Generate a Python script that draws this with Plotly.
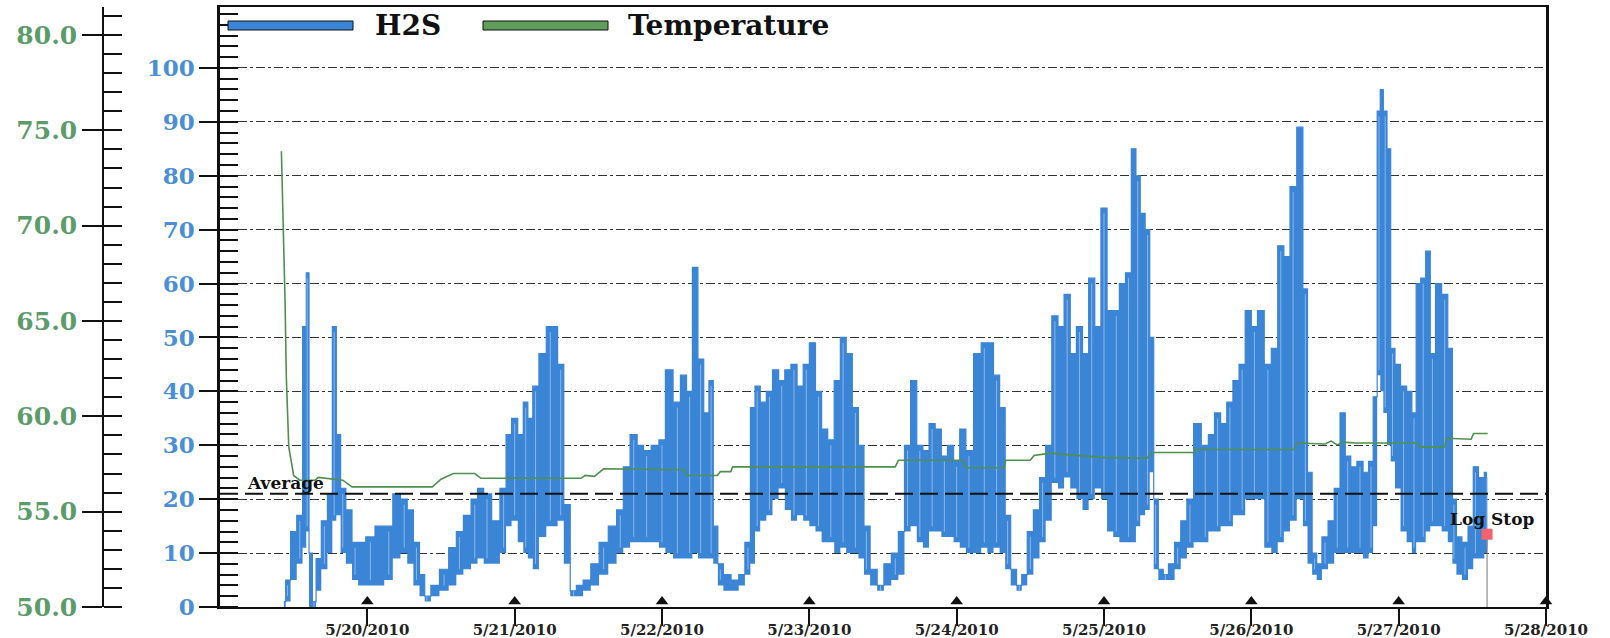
import plotly.graph_objects as go
import pandas as pd

# ---------------- data ----------------
start = pd.Timestamp("2010-05-19 00:00")

series_names = ["H2S", "Temperature"]

# H2S: hours since 5/19/2010 00:00, upper and lower envelope of the oscillating signal
h2s_hours = [10.4, 11.0, 12.0, 13.0, 13.9, 14.2, 14.8, 15.3, 16.0, 17.0, 18.0, 18.6, 19.3, 20.0, 21.0,
             22.0, 23.0, 24.5, 26.0, 27.5, 28.8, 30.0, 31.0, 32.0, 33.0, 33.7, 35.0, 36.5, 38.0, 39.0,
             40.3, 41.5, 42.4, 43.5, 45.0, 46.2, 47.0, 48.0, 49.0, 49.8, 50.5, 51.4, 52.5, 53.8, 54.5,
             55.5, 56.5, 57.6, 58.5, 59.8, 61.0, 62.5, 64.0, 65.2, 66.2, 67.4, 68.5, 69.5, 71.0, 72.0,
             73.1, 74.5, 75.5, 76.5, 77.4, 78.3, 79.3, 80.0, 80.7, 81.5, 82.5, 84.0, 85.0, 86.0, 86.8,
             87.5, 88.5, 89.5, 90.5, 91.5, 92.5, 93.5, 94.5, 95.5, 96.5, 97.5, 98.5, 99.5, 100.6, 101.5,
             102.5, 103.5, 104.5, 105.3, 106.5, 107.6, 108.7, 110.0, 111.0, 112.0, 113.0, 114.0, 115.0,
             116.0, 117.0, 118.0, 119.0, 120.0, 121.0, 122.0, 123.5, 124.5, 125.5, 126.5, 127.5, 128.3,
             129.3, 130.2, 131.0, 132.0, 133.0, 134.0, 135.0, 136.0, 137.0, 138.0, 139.0, 140.0, 141.0,
             142.0, 143.0, 144.0, 145.0, 146.0, 147.0, 148.0, 148.9, 149.5, 150.3, 151.1, 151.8, 152.4,
             153.3, 154.0, 155.0, 156.0, 157.0, 158.0, 159.2, 160.5, 161.5, 162.5, 163.5, 164.5, 165.5,
             166.5, 167.5, 168.5, 169.5, 170.7, 171.8, 172.8, 173.8, 174.8, 176.0, 176.8, 177.5, 178.3,
             179.0, 180.0, 181.0, 182.0, 182.9, 183.7, 184.7, 185.7, 186.7, 187.5, 188.2, 188.8, 189.2,
             189.8, 190.4, 191.0, 191.8, 192.8, 193.8, 194.5, 195.2, 196.0, 196.8, 197.5, 198.5, 199.5,
             200.5, 201.0, 201.8, 202.8, 203.8, 204.5, 205.5, 206.4]
h2s_high = [1, 5, 14, 17, 52, 62, 10, 1, 9, 16, 21, 52, 32, 22, 18,
            12, 12, 13, 15, 15, 21, 20, 18, 12, 6, 2, 4, 7, 11, 14,
            17, 20, 22, 21, 16, 22, 32, 35, 32, 38, 35, 41, 47, 52, 52,
            45, 19, 3, 4, 5, 8, 12, 15, 18, 26, 32, 30, 29, 30, 31,
            44, 38, 43, 40, 63, 46, 36, 42, 15, 8, 6, 5, 6, 12, 37,
            41, 38, 40, 44, 42, 44, 45, 41, 45, 49, 40, 33, 31, 42, 50,
            47, 37, 30, 15, 7, 4, 8, 10, 14, 30, 42, 30, 29,
            34, 33, 28, 30, 27, 33, 29, 47, 49, 49, 43, 37, 17,
            7, 4, 6, 14, 18, 24, 30, 54, 52, 58, 47, 52, 47,
            61, 52, 74, 55, 55, 60, 62, 85, 80, 73, 70, 50, 20,
            7, 6, 8, 12, 16, 20, 34, 30, 32, 36, 34, 38, 42,
            45, 55, 52, 55, 45, 48, 67, 65, 78, 89, 59, 25, 10,
            8, 13, 16, 22, 36, 28, 26, 27, 25, 27, 39, 92, 96,
            92, 85, 48, 45, 41, 40, 36, 60, 61, 66, 47, 60, 58,
            48, 20, 13, 12, 15, 26, 24, 25]
h2s_low = [0, 1, 5, 8, 11, 14, 0, 0, 3, 7, 10, 16, 17, 10, 8,
           5, 4, 4, 4, 5, 9, 10, 8, 4, 2, 1, 2, 3, 4, 6,
           7, 8, 9, 8, 8, 10, 15, 16, 12, 10, 9, 7, 13, 15, 15,
           16, 8, 2, 2, 3, 4, 6, 8, 10, 11, 12, 12, 12, 12, 11,
           10, 9, 9, 9, 10, 9, 9, 9, 8, 4, 3, 3, 4, 6, 8,
           14, 16, 17, 20, 22, 18, 16, 17, 16, 15, 14, 12, 12, 10, 11,
           10, 10, 9, 6, 4, 3, 4, 5, 6, 14, 15, 12, 11,
           14, 14, 13, 13, 12, 11, 10, 10, 11, 10, 11, 10, 7,
           4, 3, 4, 6, 9, 12, 16, 23, 22, 24, 22, 20, 18,
           20, 22, 20, 14, 13, 12, 12, 12, 15, 17, 18, 25, 7,
           5, 5, 5, 7, 9, 11, 12, 12, 14, 14, 15, 15, 17,
           17, 20, 20, 20, 11, 10, 12, 14, 16, 20, 15, 8, 6,
           5, 7, 8, 10, 10, 10, 10, 10, 9, 10, 15, 43, 40,
           36, 30, 27, 22, 14, 12, 10, 12, 12, 14, 15, 15, 14,
           12, 8, 6, 5, 7, 9, 9, 10]

# Temperature: hours since 5/19/2010 00:00 and value
temp_hours = [10.0, 10.3, 10.6, 10.8, 11.2, 12.0, 13.0, 15.5, 16.0, 20.0, 21.5, 34.6, 36.0, 38.0, 41.5,
              42.5, 58.8, 59.5, 61.0, 62.5, 75.6, 76.0, 81.0, 81.5, 83.2, 83.5, 110.0, 110.5, 121.0,
              121.5, 127.7, 128.0, 132.0, 132.6, 135.3, 143.5, 151.0, 151.8, 158.7, 159.0, 175.0, 175.5,
              180.0, 181.0, 182.0, 183.0, 185.0, 195.0, 195.5, 199.5, 199.8, 203.8, 204.2, 206.5]
temp_values = [73.9, 70.4, 66.0, 62.1, 58.4, 56.9, 56.65, 56.65, 56.8, 56.65, 56.3, 56.3, 56.7, 57.0, 57.0,
               56.75, 56.75, 56.9, 56.85, 57.25, 57.2, 56.9, 56.9, 57.1, 57.1, 57.35, 57.35, 57.7, 57.7,
               57.3, 57.3, 57.7, 57.7, 57.95, 58.07, 57.85, 57.8, 58.1, 58.1, 58.26, 58.26, 58.6,
               58.55, 58.7, 58.5, 58.65, 58.6, 58.6, 58.4, 58.4, 58.85, 58.8, 59.1, 59.1]

average_h2s = 21.0
log_stop_value = 13.5
log_stop_hour = 206.4

date_ticks = ["2010-05-20", "2010-05-21", "2010-05-22", "2010-05-23", "2010-05-24",
              "2010-05-25", "2010-05-26", "2010-05-27", "2010-05-28"]
date_labels = ["5/20/2010", "5/21/2010", "5/22/2010", "5/23/2010", "5/24/2010",
               "5/25/2010", "5/26/2010", "5/27/2010", "5/28/2010"]
h2s_ticks = [0, 10, 20, 30, 40, 50, 60, 70, 80, 90, 100]
temp_ticks = [50.0, 55.0, 60.0, 65.0, 70.0, 75.0, 80.0]

# ---------------- styling ----------------
W, H = 1610, 638
ML, MR, MT, MB = 0, 64, 7, 31
PW, PH = W - ML - MR, H - MT - MB
PLOT_LEFT = 220
BLUE = "#3b85d7"
BLUE_STREAK = "#8ab6ea"
GREEN = "#4f8f4f"
GREEN_LABEL = "#5c9c6b"
BLUE_LABEL = "#4a8fd6"
FONT = "DejaVu Serif"


def px_x(p):
    return (p - ML) / PW


def px_y(p):
    return (H - MB - p) / PH


def to_time(hours):
    return [start + pd.Timedelta(hours=h) for h in hours]


t_h2s = to_time(h2s_hours)
t_temp = to_time(temp_hours)
t_stop = start + pd.Timedelta(hours=log_stop_hour)

# light vertical streaks at each reading (lower -> upper)
sx, sy = [], []
for i, (t, lo, hi) in enumerate(zip(t_h2s, h2s_low, h2s_high)):
    if i % 2 == 1:
        sx += [t, t, None]
        sy += [lo + 1, hi - 1, None]

fig = go.Figure()
fig.add_trace(go.Scatter(x=t_h2s, y=h2s_low, mode="lines", line=dict(width=0, color=BLUE, shape="hvh"),
                         showlegend=False, hoverinfo="skip"))
fig.add_trace(go.Scatter(x=t_h2s, y=h2s_high, mode="lines", line=dict(width=1.2, color=BLUE, shape="hvh"),
                         fill="tonexty", fillcolor=BLUE, name=series_names[0], showlegend=False))
fig.add_trace(go.Scatter(x=sx, y=sy, mode="lines", line=dict(width=1, color=BLUE_STREAK),
                         showlegend=False, hoverinfo="skip", connectgaps=False))
# log stop drop line and marker
fig.add_trace(go.Scatter(x=[t_stop, t_stop], y=[log_stop_value, 0], mode="lines",
                         line=dict(width=1, color="#777777"), showlegend=False, hoverinfo="skip"))
fig.add_trace(go.Scatter(x=[t_stop], y=[log_stop_value], mode="markers",
                         marker=dict(symbol="square", size=11, color="#f2636d"),
                         showlegend=False, hoverinfo="skip"))
# day markers on the axis
fig.add_trace(go.Scatter(x=date_ticks, y=[1.0] * len(date_ticks), mode="markers",
                         marker=dict(symbol="triangle-up", size=11, color="#111111"),
                         cliponaxis=False, showlegend=False, hoverinfo="skip"))
# temperature
fig.add_trace(go.Scatter(x=t_temp, y=temp_values, mode="lines", yaxis="y2",
                         line=dict(width=1.6, color=GREEN), name=series_names[1], showlegend=False))

# average line
fig.add_shape(type="line", xref="x domain", x0=0, x1=1, yref="y", y0=average_h2s, y1=average_h2s,
              line=dict(color="#111111", width=2, dash="18px,7px"))
fig.add_annotation(xref="x domain", x=0.019, yref="y", y=average_h2s, text="Average",
                   xanchor="left", yanchor="bottom", showarrow=False, yshift=-1,
                   font=dict(family=FONT, size=17, color="#111111", weight="bold"))
fig.add_annotation(x=t_stop, y=log_stop_value, text="Log Stop", xanchor="center", yanchor="middle",
                   showarrow=False, yshift=15, xshift=5,
                   font=dict(family=FONT, size=17, color="#111111", weight="bold"))

# custom legend
legend_items = [(series_names[0], BLUE, 228, 353, 373), (series_names[1], "#5e9e5a", 483, 608, 626)]
for name, col, x0, x1, xt in legend_items:
    fig.add_shape(type="rect", xref="paper", yref="paper", x0=px_x(x0), x1=px_x(x1),
                  y0=px_y(30), y1=px_y(21), fillcolor=col, line=dict(color="#111111", width=1))
    fig.add_annotation(xref="paper", yref="paper", x=px_x(xt), y=px_y(26), text=name,
                       xanchor="left", yanchor="middle", showarrow=False,
                       font=dict(family=FONT, size=28, color="#111111", weight="bold"))

fig.update_layout(
    width=W, height=H,
    margin=dict(l=ML, r=MR, t=MT, b=MB, autoexpand=False),
    paper_bgcolor="white", plot_bgcolor="white",
    showlegend=False,
    xaxis=dict(
        type="date", domain=[px_x(PLOT_LEFT), 1],
        range=[start, pd.Timestamp("2010-05-28 00:00")],
        tickvals=date_ticks, ticktext=date_labels,
        ticks="outside", ticklen=17, tickwidth=1.5, tickcolor="#111111",
        ticklabelstandoff=-9,
        tickfont=dict(family=FONT, size=15, color="#222222", weight="bold"),
        showline=True, linecolor="#111111", linewidth=2, mirror=True,
        showgrid=False, zeroline=False,
    ),
    yaxis=dict(
        range=[0, 111.3], tickvals=h2s_ticks,
        ticks="outside", ticklen=18, tickwidth=1.5, tickcolor="#111111",
        tickfont=dict(family=FONT, size=23, color=BLUE_LABEL, weight="bold"),
        showgrid=True, gridcolor="#333333", gridwidth=1, griddash="dashdot",
        minor=dict(dtick=2, tick0=0, ticks="inside", ticklen=18, tickwidth=1.5,
                   tickcolor="#111111", showgrid=False),
        showline=True, linecolor="#111111", linewidth=2.5, mirror=True, zeroline=False,
    ),
    yaxis2=dict(
        overlaying="y", anchor="free", position=px_x(103), side="left",
        range=[50, 81.47], tickvals=temp_ticks, ticktext=[f"{v:.1f}" for v in temp_ticks],
        ticks="outside", ticklen=20, tickwidth=1.5, tickcolor="#111111",
        tickfont=dict(family=FONT, size=25, color=GREEN_LABEL, weight="bold"),
        minor=dict(dtick=1, tick0=50, ticks="inside", ticklen=18, tickwidth=1.5,
                   tickcolor="#111111", showgrid=False),
        showline=True, linecolor="#111111", linewidth=1.5, showgrid=False, zeroline=False,
    ),
)

fig.write_html("out.html")
